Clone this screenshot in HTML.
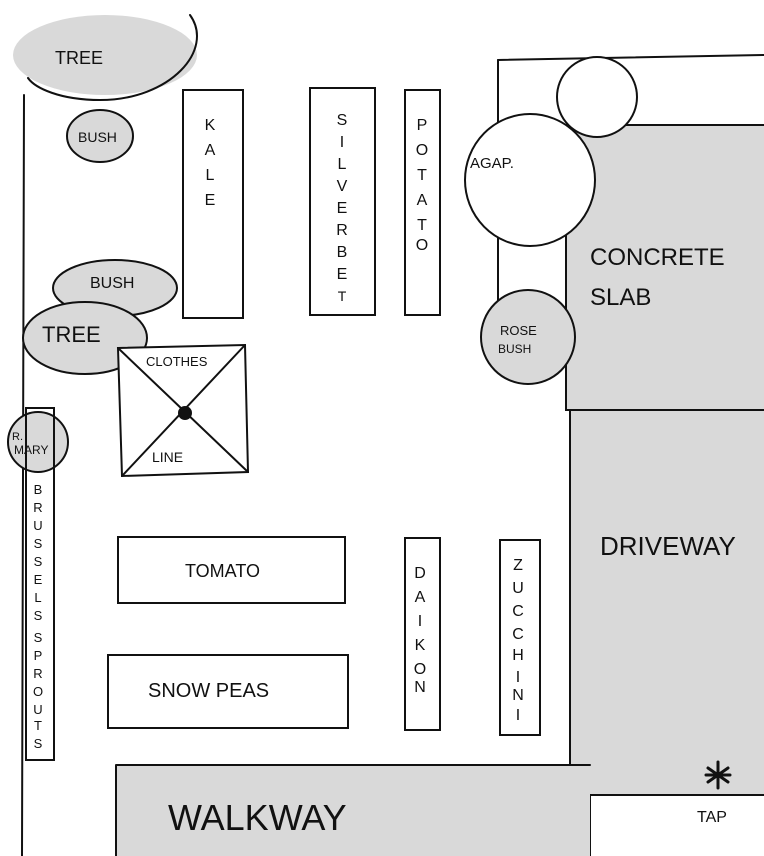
<!DOCTYPE html>
<html><head><meta charset="utf-8"><style>
html,body{margin:0;padding:0;background:#fff;}
svg{display:block;}
text{font-family:"Liberation Sans",sans-serif;fill:#111;}
</style></head><body>
<svg width="764" height="856" viewBox="0 0 764 856" xmlns="http://www.w3.org/2000/svg">
<g stroke="#111" stroke-width="2" fill="none" stroke-linecap="round">
<!-- gray areas -->
<path d="M566 125 L764 125 L764 795 L590 795 L590 856 L570 856 L570 410 L566 410 Z" fill="#d9d9d9" stroke="none"/>
<path d="M566 125 L764 125" />
<path d="M566 125 L566 410 L764 410" />
<path d="M570 410 L570 856" />
<path d="M590 795 L764 795 M590 795 L590 856" />
<rect x="116" y="765" width="474" height="95" fill="#d9d9d9" stroke="none"/>
<path d="M116 765 L590 765 M116 765 L116 856" />
<!-- borders -->
<path d="M24 95 L22 856" />
<path d="M498 60 L764 55" />
<path d="M498 60 L498 300" />
<!-- tree top -->
<ellipse cx="105" cy="55" rx="92" ry="40" fill="#d9d9d9" stroke="none"/>
<path d="M190 15 C215 50 170 100 100 100 C60 100 35 88 28 78" />
<ellipse cx="100" cy="136" rx="33" ry="26" fill="#d9d9d9"/>
<ellipse cx="115" cy="288" rx="62" ry="28" fill="#d9d9d9"/>
<ellipse cx="85" cy="338" rx="62" ry="36" fill="#d9d9d9"/>
<circle cx="38" cy="442" r="30" fill="#d9d9d9"/>
<!-- clothesline -->
<path d="M118 348 L245 345 L248 472 L122 476 Z" fill="#fff"/>
<path d="M118 348 L248 472 M245 345 L122 476" />
<circle cx="185" cy="413" r="6" fill="#111"/>
<!-- beds -->
<rect x="26" y="408" width="28" height="352" fill="none"/>
<rect x="183" y="90" width="60" height="228" fill="#fff"/>
<rect x="310" y="88" width="65" height="227"/>
<rect x="405" y="90" width="35" height="225"/>
<rect x="118" y="537" width="227" height="66"/>
<rect x="108" y="655" width="240" height="73"/>
<rect x="405" y="538" width="35" height="192"/>
<rect x="500" y="540" width="40" height="195"/>
<!-- right circles -->
<circle cx="597" cy="97" r="40" fill="#fff"/>
<ellipse cx="530" cy="180" rx="65" ry="66" fill="#fff"/>
<circle cx="528" cy="337" r="47" fill="#d9d9d9"/>
<!-- tap -->
<path d="M718 762 L718 788 M708 768 L728 782 M728 768 L708 782 M706 775 L730 775" stroke-width="3"/>
</g>
<g font-size="18">
<text x="55" y="64">TREE</text>
<text x="78" y="142" font-size="14">BUSH</text>
<text x="90" y="288" font-size="16">BUSH</text>
<text x="42" y="342" font-size="22">TREE</text>
<text x="146" y="366" font-size="13">CLOTHES</text>
<text x="152" y="462" font-size="14">LINE</text>
<text x="12" y="440" font-size="11">R.</text>
<text x="14" y="454" font-size="12">MARY</text>
<text x="470" y="168" font-size="15">AGAP.</text>
<text x="500" y="335" font-size="13">ROSE</text>
<text x="498" y="353" font-size="12">BUSH</text>
<text x="590" y="265" font-size="24">CONCRETE</text>
<text x="590" y="305" font-size="24">SLAB</text>
<text x="600" y="555" font-size="26">DRIVEWAY</text>
<text x="185" y="577">TOMATO</text>
<text x="148" y="697" font-size="20">SNOW PEAS</text>
<text x="168" y="830" font-size="36">WALKWAY</text>
<text x="697" y="822" font-size="16">TAP</text>
</g>
<g font-size="16" text-anchor="middle">
<text x="210" y="130">K</text><text x="210" y="155">A</text><text x="210" y="180">L</text><text x="210" y="205">E</text>
<text x="342" y="125">S</text><text x="342" y="147">I</text><text x="342" y="169">L</text><text x="342" y="191">V</text><text x="342" y="213">E</text><text x="342" y="235">R</text><text x="342" y="257">B</text><text x="342" y="279">E</text><text x="342" y="301" font-size="14">T</text>
<text x="422" y="130">P</text><text x="422" y="155">O</text><text x="422" y="180">T</text><text x="422" y="205">A</text><text x="422" y="230">T</text><text x="422" y="250">O</text>
<text x="420" y="578">D</text><text x="420" y="602">A</text><text x="420" y="626">I</text><text x="420" y="650">K</text><text x="420" y="674">O</text><text x="420" y="692">N</text>
<text x="518" y="570">Z</text><text x="518" y="593">U</text><text x="518" y="616">C</text><text x="518" y="639">C</text><text x="518" y="660">H</text><text x="518" y="682">I</text><text x="518" y="700">N</text><text x="518" y="720">I</text>
</g>
<g font-size="13" text-anchor="middle">
<text x="38" y="494">B</text><text x="38" y="512">R</text><text x="38" y="530">U</text><text x="38" y="548">S</text><text x="38" y="566">S</text><text x="38" y="584">E</text><text x="38" y="602">L</text><text x="38" y="620">S</text><text x="38" y="642">S</text><text x="38" y="660">P</text><text x="38" y="678">R</text><text x="38" y="696">O</text><text x="38" y="714">U</text><text x="38" y="730">T</text><text x="38" y="748">S</text>
</g>
</svg>
</body></html>
